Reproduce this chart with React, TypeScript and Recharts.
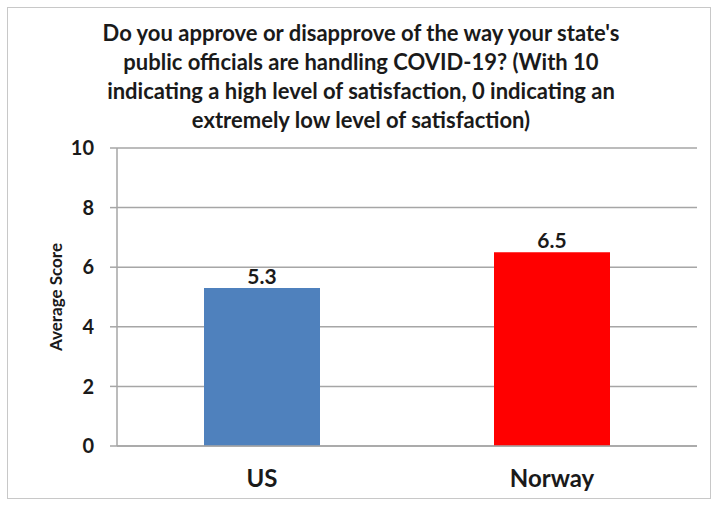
import { Bar, BarChart, CartesianGrid, Cell, Label, LabelList, XAxis, YAxis } from "recharts";

const countries = ["US", "Norway"];
const scores = [5.3, 6.5];
const barColors = ["#4F81BD", "#FF0000"];
const yTicks = [0, 2, 4, 6, 8, 10];
const titleLines = [
  "Do you approve or disapprove of the way your state's",
  "public officials are handling COVID-19? (With 10",
  "indicating a high level of satisfaction, 0 indicating an",
  "extremely low level of satisfaction)",
];

const FONT = "Lato, 'Open Sans', sans-serif";

export default function App() {
  const data = countries.map((c, i) => ({ country: c, score: scores[i] }));

  return (
    <div style={{ position: "absolute", left: 0, top: 0, width: 718, height: 506, background: "#fff", fontFamily: FONT }}>
      <div
        style={{
          position: "absolute",
          left: 7,
          top: 7,
          width: 702,
          height: 490,
          border: "1px solid #c8c8c8",
        }}
      />
      <div
        style={{
          position: "absolute",
          left: 0,
          top: 18,
          width: 722,
          textAlign: "center",
          fontSize: 22,
          fontWeight: 700,
          lineHeight: "29px",
          color: "#1a1a1a",
        }}
      >
        {titleLines.map((l) => (
          <div key={l}>{l}</div>
        ))}
      </div>
      <div style={{ position: "absolute", left: 0, top: 0 }}>
        <BarChart
          width={718}
          height={506}
          data={data}
          margin={{ top: 148, right: 21, bottom: 20, left: 37 }}
          barCategoryGap="30%"
        >
          <CartesianGrid vertical={false} stroke="#a6a6a6" strokeWidth={1.5} />
          <XAxis
            dataKey="country"
            height={40}
            axisLine={{ stroke: "#a6a6a6", strokeWidth: 1.5 }}
            tickLine={false}
            tickMargin={18}
            tick={{ fill: "#1a1a1a", fontSize: 24, fontWeight: 700, fontFamily: FONT }}
          />
          <YAxis
            width={80}
            domain={[0, 10]}
            ticks={yTicks}
            interval={0}
            axisLine={{ stroke: "#a6a6a6", strokeWidth: 1.5 }}
            tickLine={{ stroke: "#a6a6a6", strokeWidth: 1.5 }}
            tickSize={7}
            tickMargin={16}
            tick={{ fill: "#1a1a1a", fontSize: 20, fontWeight: 700, fontFamily: FONT }}
          >
            <Label
              value="Average Score"
              angle={-90}
              position="insideLeft"
              offset={19}
              style={{ fill: "#1a1a1a", fontSize: 17, fontWeight: 700, fontFamily: FONT, textAnchor: "middle" }}
            />
          </YAxis>
          <Bar dataKey="score" isAnimationActive={false}>
            {data.map((d, i) => (
              <Cell key={d.country} fill={barColors[i]} />
            ))}
            <LabelList
              dataKey="score"
              position="top"
              offset={4}
              style={{ fill: "#1a1a1a", fontSize: 21, fontWeight: 700, fontFamily: FONT }}
            />
          </Bar>
        </BarChart>
      </div>
    </div>
  );
}
